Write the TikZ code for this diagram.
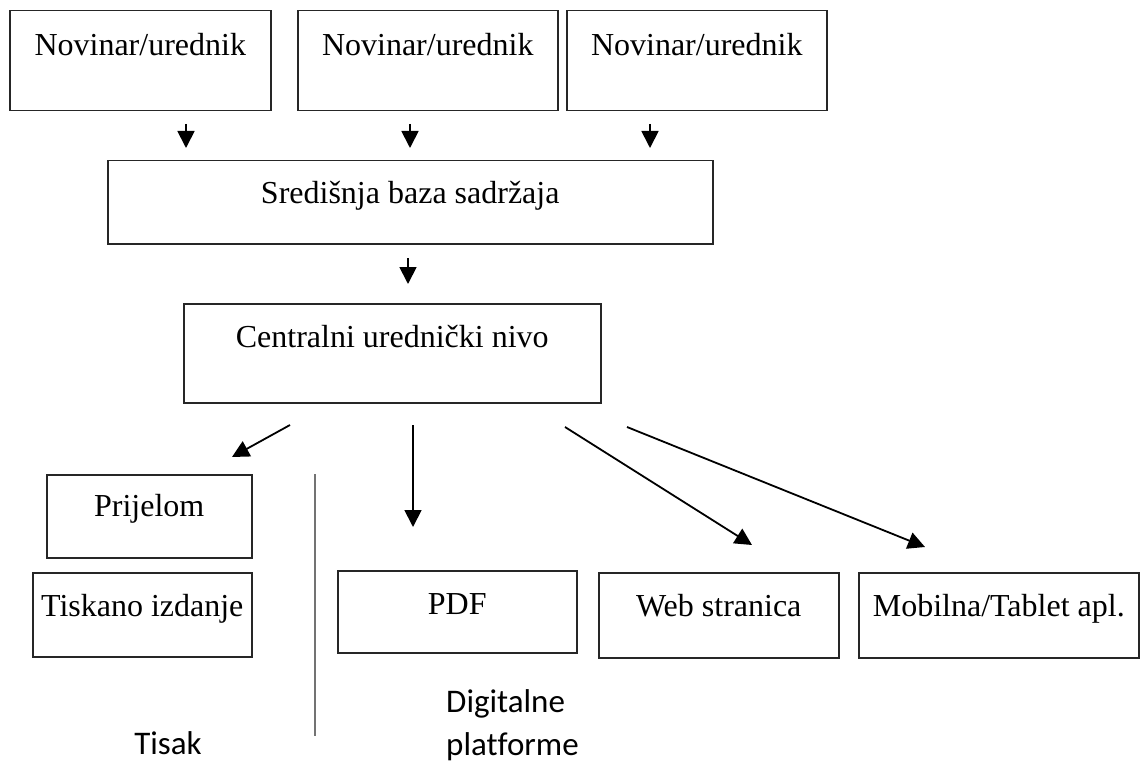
\documentclass[tikz,border=0pt]{standalone}
\usepackage{fontspec}
\setmainfont{Liberation Serif}
\newfontfamily\labelfont[Ligatures=NoCommon]{Carlito}
\usetikzlibrary{arrows.meta}
\begin{document}
\begin{tikzpicture}[x=1pt,y=-1pt,
  box/.style={draw=black!85, line width=1.5pt, rectangle, inner sep=0pt, anchor=north west},
  txt/.style={font=\fontsize{32}{38}\selectfont, inner sep=0pt, anchor=base},
  arr/.style={line width=1.8pt, -{Triangle[length=17pt,width=17pt]}},
  lab/.style={font=\labelfont\fontsize{33}{45}\selectfont, inner sep=0pt},
  divider/.style={draw=black!55, line width=2.2pt}]
\useasboundingbox (0,0) rectangle (1142,762);
% top boxes
\node[box, minimum width=261pt, minimum height=100pt] (A) at (9,10) {};
\node[box, minimum width=260pt, minimum height=100pt] (B) at (297,10) {};
\node[box, minimum width=260pt, minimum height=100pt] (C) at (566,10) {};
\node[txt] (At) at ([yshift=-46pt]A.north) {Novinar/urednik};
\node[txt] (Bt) at ([yshift=-46pt]B.north) {Novinar/urednik};
\node[txt] (Ct) at ([yshift=-46pt]C.north) {Novinar/urednik};
% central database
\node[box, minimum width=605pt, minimum height=83pt] (S) at (107,160) {};
\node[txt] (St) at ([yshift=-44pt]S.north) {Središnja baza sadržaja};
% central editorial level
\node[box, minimum width=417pt, minimum height=99pt] (U) at (183,303) {};
\node[txt] (Ut) at ([yshift=-44pt]U.north) {Centralni urednički nivo};
% print
\node[box, minimum width=205pt, minimum height=83pt] (P) at (46,474) {};
\node[txt] (Pt) at ([yshift=-42pt]P.north) {Prijelom};
\node[box, minimum width=219pt, minimum height=84pt] (T) at (32,572) {};
\node[txt] (Tt) at ([yshift=-44pt]T.north) {Tiskano izdanje};
% digital
\node[box, minimum width=239pt, minimum height=82pt] (D) at (337,570) {};
\node[txt] (Dt) at ([yshift=-44pt]D.north) {PDF};
\node[box, minimum width=240pt, minimum height=85pt] (W) at (598,572) {};
\node[txt] (Wt) at ([yshift=-44pt]W.north) {Web stranica};
\node[box, minimum width=280pt, minimum height=85pt] (M) at (858,572) {};
\node[txt] (Mt) at ([yshift=-44pt]M.north) {Mobilna/Tablet apl.};
% arrow end points
\coordinate (a1) at (186,124); \coordinate (a1e) at (186,148);
\coordinate (b1) at (410,124); \coordinate (b1e) at (410,148);
\coordinate (c1) at (650,124); \coordinate (c1e) at (650,148);
\coordinate (s1) at (408,258); \coordinate (s1e) at (408,284);
\coordinate (u1) at (290,425); \coordinate (u1e) at (232,457);
\coordinate (u2) at (413,425); \coordinate (u2e) at (413,527);
\coordinate (u3) at (565,427); \coordinate (u3e) at (752,545);
\coordinate (u4) at (627,427); \coordinate (u4e) at (925,547);
\draw[arr] (a1) -- (a1e);
\draw[arr] (b1) -- (b1e);
\draw[arr] (c1) -- (c1e);
\draw[arr] (s1) -- (s1e);
\draw[arr] (u1) -- (u1e);
\draw[arr] (u2) -- (u2e);
\draw[arr] (u3) -- (u3e);
\draw[arr] (u4) -- (u4e);
% divider
\coordinate (v1) at (315,474); \coordinate (v2) at (315,736);
\draw[divider] (v1) -- (v2);
% group labels
\node[lab, anchor=base] (tis) at (168,754) {Tisak};
\node[lab, anchor=base west] (dig) at (446,712) {Digitalne};
\node[lab, anchor=base west] (plat) at (446,755) {platforme};
\end{tikzpicture}
\end{document}
